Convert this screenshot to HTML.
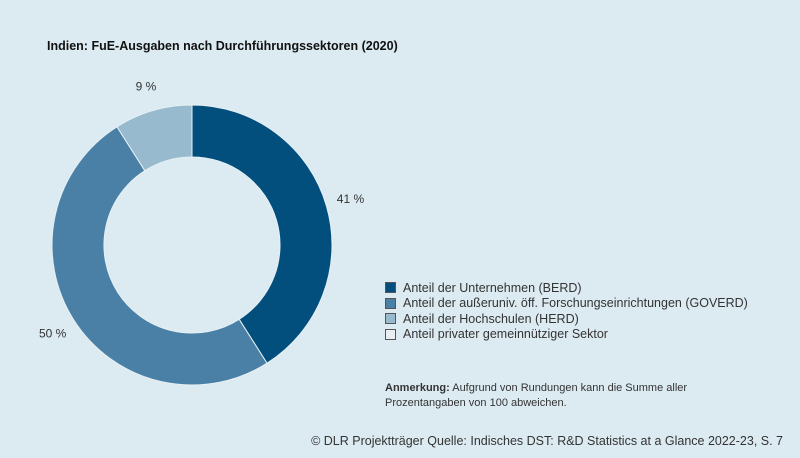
<!DOCTYPE html>
<html><head><meta charset="utf-8"><style>
body{margin:0;width:800px;height:458px;background:#dcebf2;font-family:"Liberation Sans",sans-serif;color:#222;position:relative;overflow:hidden}
.t{position:absolute;left:47px;top:39px;font-size:12.5px;font-weight:bold;color:#111}
.leg{position:absolute;left:385px;top:280px;font-size:12.5px;color:#333}
.li{height:15.5px;display:flex;align-items:center}
.sw{width:11px;height:11px;border:1px solid #555;margin-right:7px;box-sizing:border-box}
.note{position:absolute;left:385px;top:381px;font-size:11px;line-height:15px;color:#333}
.src{position:absolute;right:17px;top:434px;font-size:12.5px;color:#333}
</style></head><body>
<div class="t">Indien: FuE-Ausgaben nach Durchführungssektoren (2020)</div>
<svg id="c" width="800" height="458" style="position:absolute;left:0;top:0"></svg>
<div class="leg">
<div class="li"><span class="sw" style="background:#024f7e"></span>Anteil der Unternehmen (BERD)</div>
<div class="li"><span class="sw" style="background:#4a80a5"></span>Anteil der außeruniv. öff. Forschungseinrichtungen (GOVERD)</div>
<div class="li"><span class="sw" style="background:#97bace"></span>Anteil der Hochschulen (HERD)</div>
<div class="li"><span class="sw" style="background:#e8eef2"></span>Anteil privater gemeinnütziger Sektor</div>
</div>
<div class="note"><b>Anmerkung:</b> Aufgrund von Rundungen kann die Summe aller<br>Prozentangaben von 100 abweichen.</div>
<div class="src">© DLR Projektträger Quelle: Indisches DST: R&amp;D Statistics at a Glance 2022-23, S. 7</div>
<script>
const categories=["BERD","GOVERD","HERD","Privat"];
const values=[41,50,9,0];
const labels=["41 %","50 %","9 %",""];
const colors=["#024f7e","#4a80a5","#97bace","#e8eef2"];
const svg=document.getElementById('c');
const cx=192,cy=245,R=140,r=88,NS="http://www.w3.org/2000/svg";
const total=values.reduce((a,b)=>a+b,0);
function pt(a,rad){return [cx+rad*Math.sin(a),cy-rad*Math.cos(a)];}
let acc=0;
values.forEach((v,i)=>{
  if(v<=0)return;
  const a0=acc/total*2*Math.PI,a1=(acc+v)/total*2*Math.PI;acc+=v;
  const lg=(a1-a0)>Math.PI?1:0;
  const p0=pt(a0,R),p1=pt(a1,R),q1=pt(a1,r),q0=pt(a0,r);
  const p=document.createElementNS(NS,'path');
  p.setAttribute('d',`M${p0}A${R},${R} 0 ${lg} 1 ${p1}L${q1}A${r},${r} 0 ${lg} 0 ${q0}Z`);
  p.setAttribute('fill',colors[i]);p.setAttribute('stroke','#e6f0f5');p.setAttribute('stroke-width','1');
  
  
  svg.appendChild(p);
  const am=(a0+a1)/2;const L=pt(am,165);
  const t=document.createElementNS(NS,'text');
  t.setAttribute('x',L[0]);t.setAttribute('y',L[1]+4);t.setAttribute('text-anchor','middle');
  t.setAttribute('font-size','12');t.setAttribute('fill','#333');t.setAttribute('font-family','Liberation Sans, sans-serif');
  t.textContent=labels[i];
  
  
  svg.appendChild(t);
});
</script>
</body></html>
